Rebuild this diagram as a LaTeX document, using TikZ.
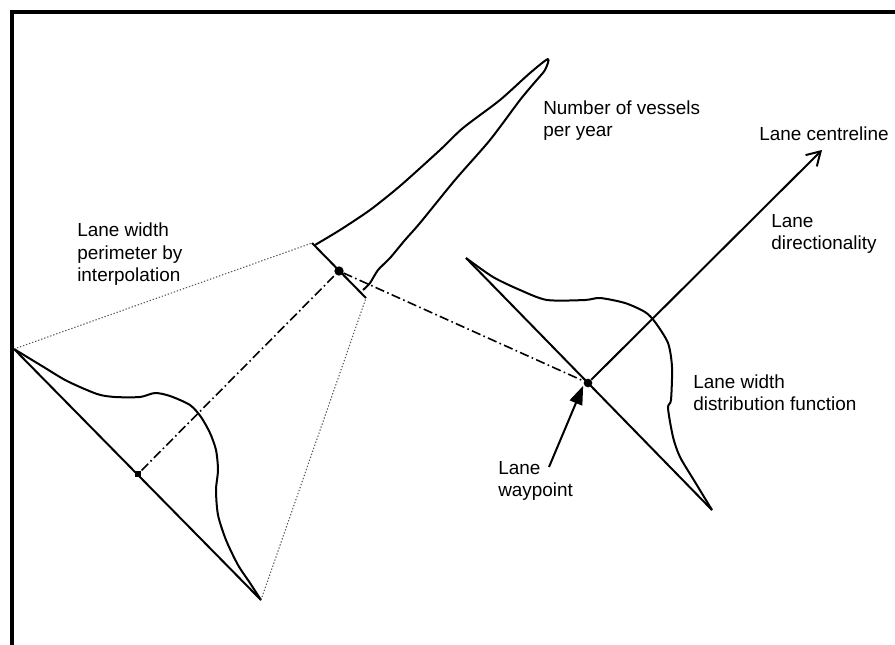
\documentclass[tikz,border=0pt]{standalone}
\usepackage{fontspec}
\setmainfont{Liberation Sans}
\usepackage{tikz}
\usetikzlibrary{arrows.meta,positioning}
\tikzset{
  frameline/.style={line width=2.3pt},
  lane/.style={line width=1.5pt},
  dist/.style={line width=1.5pt,line join=round,smooth,tension=0.45},
  interp/.style={line width=1.2pt,dash pattern=on 7pt off 2.5pt on 1.2pt off 2.5pt},
  guide/.style={gray!70!black,line width=0.8pt,dash pattern=on 1pt off 1.4pt},
  wp/.style={circle,fill=black,inner sep=0pt,minimum size=5pt},
  lbl/.style={font=\fontsize{14.2}{16.5}\selectfont,align=left,anchor=base west,inner sep=0pt}
}

\begin{document}
\begin{tikzpicture}[x=0.75pt,y=-0.75pt]
\useasboundingbox (0,0) rectangle (895,645);
\draw[frameline] (12,646) -- (12,12) -- (896,12);
% ends of the three lane widths
\coordinate (la) at (14,349);
\coordinate (lb) at (261,600);
\coordinate (ma) at (312,243);
\coordinate (mb) at (366,298);
\coordinate (ra) at (466,258);
\coordinate (rb) at (712,510);
\coordinate (tip) at (822,150);
\coordinate (tail) at (549,467);
% waypoints
\node[wp,rectangle,minimum size=5pt] (wl) at (138,474) {};
\node[wp,minimum size=7pt] (wm) at (339,271) {};
\node[wp,minimum size=6.5pt] (wr) at (588,383) {};
% left lane width
\draw[lane] (la) -- (lb);
\draw[dist] plot coordinates {(14,349) (42,366) (67,381) (97,394) (115,397) (140,397)
  (155,393) (170,396) (190,405) (201,417) (210,433) (216,450) (218,470) (216,490)
  (218,515) (226,540) (238,565) (250,583) (261,600)};
% interpolated lane width
\draw[guide] (la) -- (ma);
\draw[guide] (lb) -- (mb);
\draw[lane] (ma) -- (mb);
\draw[dist] plot coordinates {(315,245) (340,230) (370,210) (400,186) (440,150) (463,128)
  (500,100) (530,73) (548,59) (545,70) (535,82) (520,100) (490,140) (455,180) (420,223)
  (405,240) (390,258) (378,270) (370,283) (363,290)};
% right lane width
\draw[lane] (ra) -- (rb);
\draw[dist] plot coordinates {(466,258) (493,277) (520,290) (547,300) (585,300) (600,298)
  (625,303) (645,312) (655,322) (668,343) (672,367) (671,400) (668,408) (673,437)
  (680,457) (695,482) (712,510)};
\draw[lane,-{Straight Barb[length=10pt,width=12pt]}] (wr) -- (tip);
\draw[interp] (wl) -- (wm) -- (wr);
\draw[lane,-{Triangle[length=14pt,width=10pt]},shorten >=1pt] (tail) -- (wr.200);
% labels (base = last line)
\node[lbl] (vessels) at (543,137) {Number of vessels\\per year};
\node[lbl] (centre) at (759,141) {Lane centreline};
\node[lbl] (direct) at (771,249) {Lane\\directionality};
\node[lbl] (perim) at (77,281) {Lane width\\perimeter by\\interpolation};
\node[lbl] (distr) at (693,410) {Lane width\\distribution function};
\node[lbl] (wplbl) at (498,496) {Lane\\waypoint};
\end{tikzpicture}
\end{document}
